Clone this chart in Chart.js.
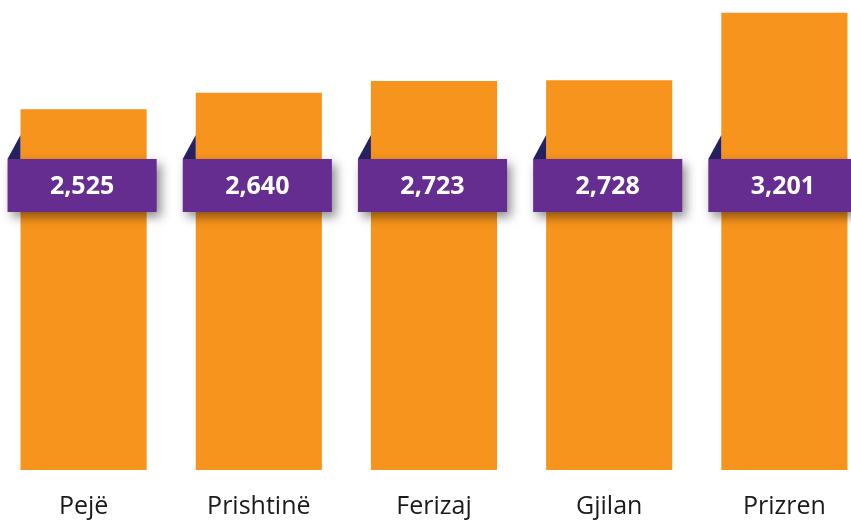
<!DOCTYPE html>
<html>
<head>
<meta charset="utf-8">
<script src="https://cdn.jsdelivr.net/npm/chart.js@4/dist/chart.umd.min.js"></script>
<style>
  html, body { margin: 0; padding: 0; background: #fff; overflow: hidden; }
  #wrap { position: absolute; left: -4px; top: 0; width: 876px; height: 521px; }
</style>
</head>
<body>
<div id="wrap"><canvas id="chart"></canvas></div>
<script>
const cities = ["Pejë", "Prishtinë", "Ferizaj", "Gjilan", "Prizren"];
const values = [2525, 2640, 2723, 2728, 3201];

const orange = "#F7941D";
const purple = "#662D91";
const navy = "#262262";

// purple value banners with a small folded corner
const bannerPlugin = {
  id: "banners",
  afterDatasetsDraw(chart) {
    const {ctx, chartArea} = chart;
    const meta = chart.getDatasetMeta(0);
    const top = chartArea.top + 159;
    const h = 53;
    meta.data.forEach((bar, i) => {
      const left = bar.x - bar.width / 2 - 13;
      const right = bar.x + bar.width / 2 + 10;
      ctx.save();
      // fold
      ctx.fillStyle = navy;
      ctx.beginPath();
      ctx.moveTo(left, top);
      ctx.lineTo(left + 13, top - 24);
      ctx.lineTo(left + 13, top);
      ctx.closePath();
      ctx.fill();
      // banner with shadow
      ctx.shadowColor = "rgba(0,0,0,0.45)";
      ctx.shadowBlur = 10;
      ctx.shadowOffsetX = 4;
      ctx.shadowOffsetY = 5;
      ctx.fillStyle = purple;
      ctx.fillRect(left, top, right - left, h);
      ctx.restore();

      ctx.save();
      ctx.fillStyle = "#fff";
      ctx.font = "bold 25px 'Open Sans'";
      ctx.textAlign = "center";
      ctx.textBaseline = "middle";
      ctx.fillText(values[i].toLocaleString("en-US"), (left + right) / 2, top + h / 2 + 1);
      ctx.restore();
    });
  }
};

new Chart(document.getElementById("chart"), {
  type: "bar",
  data: {
    labels: cities,
    datasets: [{
      data: values,
      backgroundColor: orange,
      borderWidth: 0,
      categoryPercentage: 1,
      barPercentage: 0.72
    }]
  },
  options: {
    responsive: true,
    maintainAspectRatio: false,
    animation: false,
    layout: { padding: { top: 0, left: 0, right: 0, bottom: -23 } },
    plugins: {
      legend: { display: false },
      tooltip: { enabled: false }
    },
    scales: {
      x: {
        grid: { display: false, drawTicks: false },
        border: { display: false },
        ticks: {
          color: "#1a1a1a",
          padding: 22,
          font: { family: "'Open Sans'", size: 25 }
        }
      },
      y: {
        display: false,
        min: 0,
        max: 3290
      }
    }
  },
  plugins: [bannerPlugin]
});
</script>
</body>
</html>
